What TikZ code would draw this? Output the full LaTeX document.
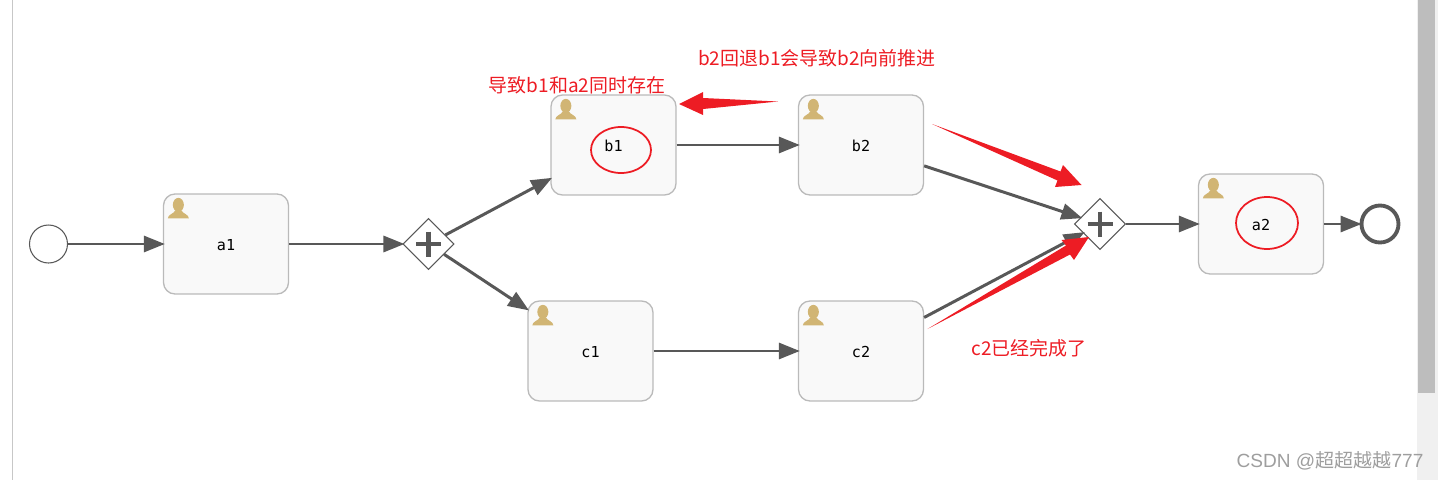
\documentclass[tikz,border=0pt]{standalone}
\usepackage{fontspec}
\setmainfont{Liberation Sans}
\newfontfamily\cjkfont{Noto Sans CJK SC}
\newfontfamily\markfont{Liberation Sans}
\newfontfamily\labelfont{DejaVu Sans Mono}
\usetikzlibrary{positioning, arrows.meta, shapes.geometric}
\definecolor{flowgray}{HTML}{585858}
\definecolor{noteRed}{HTML}{ED1C24}
\definecolor{userTan}{HTML}{D1B574}
\tikzset{
	task/.style={draw=black!27, line width=0.75pt, fill=black!2.5, rounded corners=0.23cm, minimum width=2.5cm, minimum height=2cm, inner sep=0pt, text height=0.27cm, font=\labelfont\fontsize{8.6}{10}\selectfont},
	gateway/.style={draw=flowgray, line width=0.6pt, fill=white, diamond, aspect=1, minimum size=1.02cm, inner sep=0pt},
	flow/.style={draw=flowgray, line width=1.7pt, shorten >=-0.04cm, -{Triangle[length=0.42cm, width=0.32cm]}},
	plusmark/.style={draw=flowgray, line width=2.3pt},
	note/.style={text=noteRed, inner sep=0pt, font=\cjkfont\fontsize{10.8}{12}\selectfont},
	noteloop/.style={draw=noteRed, line width=1pt, ellipse, inner sep=0pt},
	notearrow/.style={fill=noteRed, draw=none},
	usericon/.pic={
		\fill[userTan] (15.5,11.5) ellipse [x radius=5.5, y radius=7];
		\fill[userTan] (5,25) -- (26,25) .. controls (26,21) and (20,20.5) .. (18.5,17) -- (12.5,17) .. controls (11,20.5) and (5,21) .. (5,25) -- cycle;
	}
}
\begin{document}
\begin{tikzpicture}[x=0.02cm, y=-0.02cm]
	\useasboundingbox (0,0) rectangle (1438,480);
	\draw[black!22, line width=0.6pt] (12.5,0) -- (12.5,480);
	\fill[black!6] (1417,0) rectangle (1438,480);
	\fill[black!26] (1418,0) rectangle (1435,393);

	\node[draw=flowgray, line width=0.6pt, fill=white, circle, minimum size=0.76cm, inner sep=0pt] (start) at (48.5,244) {};
	\node[draw=flowgray, line width=2.2pt, fill=white, circle, minimum size=0.74cm, inner sep=0pt] (end) at (1380,224) {};
	\foreach \name/\x/\y in {a1/226/244,b1/613.5/145,b2/861/145,c1/590.5/351,c2/861/351,a2/1261/224}
	{
		\node[task] (\name) at (\x,\y) {\name};
		\path (\name.north west) pic {usericon};
	}
	\foreach \name/\x/\y in {gwa/428.5/244,gwb/1100/224}
	{
		\node[gateway] (\name) at (\x,\y) {};
		\draw[plusmark] (\name) +(-12.5,0) -- +(12.5,0) (\name) +(0,-12.5) -- +(0,12.5);
	}

	\foreach \from/\to in {start/a1,a1/gwa,gwa/b1,gwa/c1,b1/b2,c1/c2,b2/gwb,c2/gwb,gwb/a2,a2/end}
	{
		\draw[flow] (\from) -- (\to);
	}

	% red notes on top
	\node[noteloop, minimum width=1.2cm, minimum height=0.92cm] (ringb) at (621,150) {};
	\node[noteloop, minimum width=1.24cm, minimum height=1.04cm] (ringa) at (1267,223) {};
	\node[note] (noteboth) at (577,85) {导致b1和a2同时存在};
	\node[note] (noteback) at (817,58) {b2回退b1会导致b2向前推进};
	\node[note] (notedone) at (1029,348) {c2已经完成了};
	\fill[notearrow] (778,101.5) -- (703,109) -- (703,115) -- (679,104) -- (703,92) -- (703,98) -- cycle;
	\fill[notearrow] (932,124) -- (1057.5,180.5) -- (1055,187) -- (1081.5,185) -- (1063,165) -- (1060.5,171.5) -- cycle;
	\fill[notearrow] (927.5,329) -- (1070,254.5) -- (1074,260) -- (1089,237) -- (1061.5,240) -- (1066,245.5) -- cycle;

	\node[text=black!38, inner sep=0pt, font=\markfont\fontsize{10.85}{12}\selectfont] (mark) at (1330,461) {CSDN @{\cjkfont 超超越越}777};
\end{tikzpicture}
\end{document}
